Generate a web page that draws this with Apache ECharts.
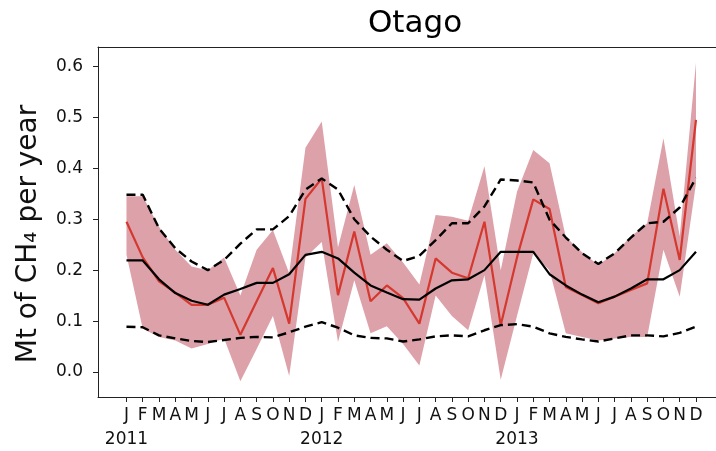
<!DOCTYPE html>
<html>
<head>
<meta charset="utf-8">
<script src="https://cdn.jsdelivr.net/npm/echarts@6/dist/echarts.min.js"></script>
<style>
html,body{margin:0;padding:0;background:#fff;}
#chart{width:716px;height:451px;}
</style>
</head>
<body>
<div id="chart"></div>
<script>
// Months Jan 2011 .. Dec 2013
const monthLetters = ['J','F','M','A','M','J','J','A','S','O','N','D'];
const years = ['2011','2012','2013'];
const yTicks = [0, 0.1, 0.2, 0.3, 0.4, 0.5, 0.6];

// Red estimate (line) and its uncertainty band
const estimate = [0.295, 0.225, 0.178, 0.156, 0.132, 0.132, 0.146, 0.073, 0.139, 0.204, 0.095, 0.340,
                  0.380, 0.151, 0.276, 0.139, 0.170, 0.145, 0.095, 0.223, 0.195, 0.184, 0.295, 0.092,
                  0.225, 0.339, 0.320, 0.167, 0.151, 0.135, 0.148, 0.161, 0.174, 0.360, 0.220, 0.495];
const bandLow  = [0.230, 0.085, 0.069, 0.062, 0.046, 0.055, 0.066, -0.018, 0.045, 0.110, -0.008, 0.225,
                  0.255, 0.059, 0.180, 0.076, 0.090, 0.055, 0.013, 0.150, 0.110, 0.082, 0.190, -0.015,
                  0.110, 0.233, 0.200, 0.076, 0.069, 0.062, 0.066, 0.069, 0.069, 0.240, 0.148, 0.370];
const bandHigh = [0.345, 0.345, 0.285, 0.240, 0.207, 0.200, 0.225, 0.150, 0.240, 0.279, 0.194, 0.440,
                  0.492, 0.245, 0.367, 0.230, 0.253, 0.215, 0.172, 0.308, 0.305, 0.297, 0.404, 0.200,
                  0.354, 0.436, 0.410, 0.265, 0.235, 0.210, 0.233, 0.266, 0.292, 0.459, 0.266, 0.607];

// Black prior: mean (solid) and bounds (dashed)
const priorMean = [0.219, 0.219, 0.182, 0.155, 0.140, 0.132, 0.152, 0.163, 0.175, 0.175, 0.192, 0.230,
                   0.236, 0.223, 0.195, 0.170, 0.156, 0.143, 0.142, 0.164, 0.180, 0.182, 0.200, 0.236,
                   0.236, 0.236, 0.192, 0.170, 0.152, 0.137, 0.148, 0.164, 0.182, 0.182, 0.200, 0.236];
const priorHigh = [0.348, 0.348, 0.282, 0.243, 0.217, 0.200, 0.220, 0.252, 0.280, 0.280, 0.306, 0.358,
                   0.380, 0.358, 0.300, 0.266, 0.240, 0.218, 0.228, 0.259, 0.292, 0.292, 0.325, 0.378,
                   0.376, 0.372, 0.299, 0.264, 0.233, 0.212, 0.233, 0.264, 0.292, 0.295, 0.323, 0.381];
const priorLow  = [0.089, 0.088, 0.072, 0.066, 0.061, 0.059, 0.063, 0.067, 0.069, 0.068, 0.078, 0.089,
                   0.098, 0.087, 0.072, 0.067, 0.066, 0.060, 0.064, 0.070, 0.072, 0.070, 0.082, 0.092,
                   0.094, 0.089, 0.076, 0.069, 0.064, 0.060, 0.066, 0.072, 0.072, 0.070, 0.077, 0.089];

const idx = estimate.map((_, i) => i);
const yearIdx = years.map((_, k) => k * 12);
const pairs = arr => arr.map((v, i) => [i, v]);
const font = 'DejaVu Sans';
const X_MIN = -1.75, X_MAX = 36.23;

const chart = echarts.init(document.getElementById('chart'), null, {renderer: 'canvas'});
chart.setOption({
  animation: false,
  backgroundColor: '#fff',
  title: {
    text: 'Otago', left: 410, top: 3, textAlign: 'center',
    textStyle: {fontFamily: font, fontSize: 31, fontWeight: 'normal', color: '#000'}
  },
  graphic: [{
    type: 'text', x: 29, y: 234, rotation: Math.PI / 2,
    style: {text: 'Mt of CH\u2084 per year', fontFamily: font, fontSize: 28, fill: '#111',
            textAlign: 'center', textVerticalAlign: 'middle'}
  }],
  grid: {left: 98, right: 0, top: 47, bottom: 54, show: false},
  xAxis: [{
    type: 'value', min: X_MIN, max: X_MAX,
    splitLine: {show: false},
    axisLine: {show: true, onZero: false, lineStyle: {color: '#222', width: 1}},
    axisTick: {show: true, customValues: idx, length: 5, lineStyle: {color: '#222'}},
    axisLabel: {
      customValues: idx, showMinLabel: true, showMaxLabel: true, hideOverlap: false,
      margin: 10, color: '#111', fontFamily: font, fontSize: 17,
      formatter: v => monthLetters[Math.round(v) % 12]
    }
  }, {
    type: 'value', position: 'bottom', offset: 25, min: X_MIN, max: X_MAX,
    splitLine: {show: false},
    axisLine: {show: false}, axisTick: {show: false},
    axisLabel: {
      customValues: yearIdx, showMinLabel: true, showMaxLabel: true,
      margin: 9, color: '#111', fontFamily: font, fontSize: 17,
      formatter: v => years[Math.round(v) / 12]
    }
  }, {
    type: 'value', position: 'top', min: X_MIN, max: X_MAX,
    splitLine: {show: false},
    axisLine: {show: true, onZero: false, lineStyle: {color: '#222', width: 1}},
    axisTick: {show: false}, axisLabel: {show: false}
  }],
  yAxis: {
    type: 'value', min: -0.049, max: 0.638,
    splitLine: {show: false},
    axisLine: {show: true, onZero: false, lineStyle: {color: '#222', width: 1}},
    axisTick: {show: true, customValues: yTicks, length: 5, lineStyle: {color: '#222'}},
    axisLabel: {customValues: yTicks, showMinLabel: true, showMaxLabel: true,
                margin: 15, color: '#111', fontFamily: font, fontSize: 17,
                formatter: v => v.toFixed(1)}
  },
  series: [
    {
      type: 'custom', silent: true, z: 1,
      data: idx.map(i => [i, bandLow[i], bandHigh[i]]),
      encode: {x: 0, y: [1, 2]},
      renderItem: (params, api) => {
        if (params.dataIndex !== 0) return null;
        const pts = [];
        for (let i = 0; i < bandHigh.length; i++) pts.push(api.coord([i, bandHigh[i]]));
        for (let i = bandLow.length - 1; i >= 0; i--) pts.push(api.coord([i, bandLow[i]]));
        return {type: 'polygon', shape: {points: pts}, style: {fill: '#dda1aa'}};
      }
    },
    {type: 'line', data: pairs(estimate), symbol: 'none', lineStyle: {color: '#d4382e', width: 2.2}, z: 3},
    {type: 'line', data: pairs(priorMean), symbol: 'none', lineStyle: {color: '#000', width: 2.2}, z: 4},
    {type: 'line', data: pairs(priorHigh), symbol: 'none', lineStyle: {color: '#000', width: 2.4, type: [9, 5]}, z: 4},
    {type: 'line', data: pairs(priorLow), symbol: 'none', lineStyle: {color: '#000', width: 2.4, type: [9, 5]}, z: 4}
  ]
});
</script>
</body>
</html>
